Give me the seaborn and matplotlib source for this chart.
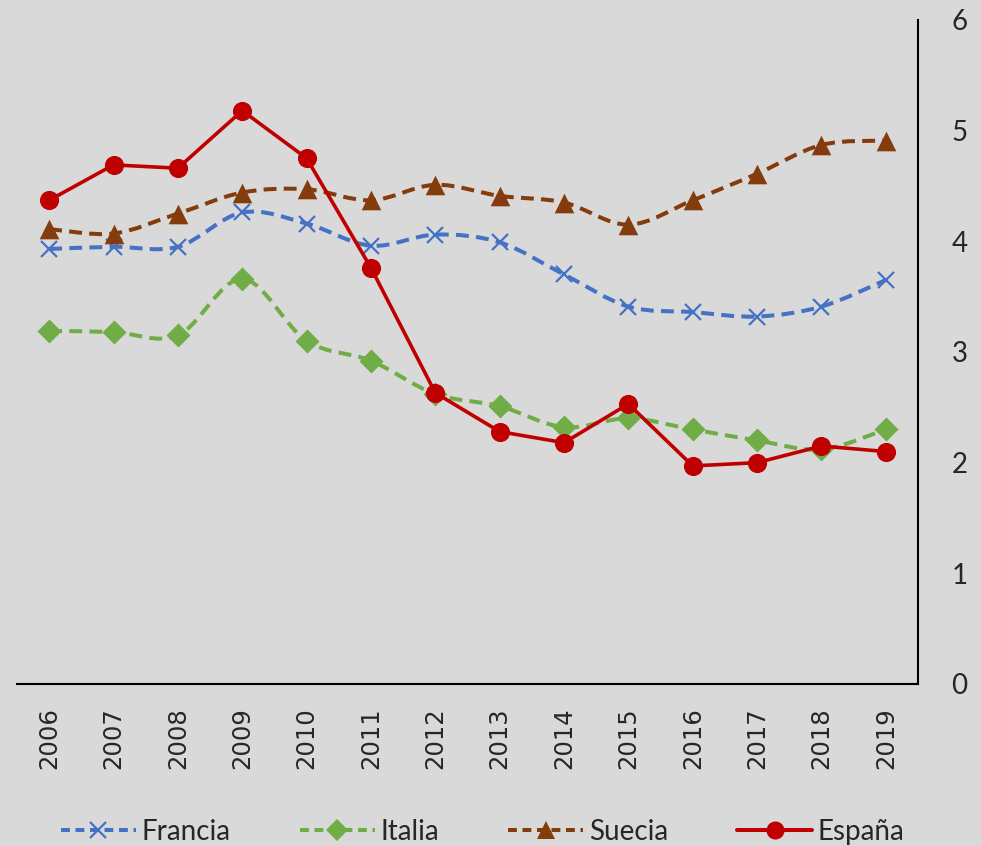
import numpy as np
import pandas as pd
import seaborn as sns
import matplotlib.pyplot as plt
from matplotlib.path import Path
from matplotlib.patches import PathPatch
from matplotlib.lines import Line2D

# Values
years = [str(y) for y in range(2006, 2020)]
francia = [3.93, 3.95, 3.95, 4.26, 4.16, 3.96, 4.06, 3.99, 3.70, 3.41, 3.36, 3.32, 3.41, 3.65]
italia = [3.19, 3.18, 3.15, 3.66, 3.10, 2.92, 2.62, 2.51, 2.32, 2.40, 2.30, 2.20, 2.12, 2.30]
suecia = [4.11, 4.07, 4.25, 4.44, 4.47, 4.37, 4.51, 4.41, 4.35, 4.15, 4.37, 4.61, 4.87, 4.91]
espana = [4.37, 4.69, 4.66, 5.18, 4.75, 3.76, 2.63, 2.28, 2.18, 2.53, 1.97, 2.00, 2.15, 2.10]

BG = "#D9D9D9"
colors = {"Francia": "#4472C4", "Italia": "#70AD47", "Suecia": "#843C0C", "España": "#C00000"}
markers = {"Francia": "x", "Italia": "D", "Suecia": "^", "España": "o"}

df = pd.DataFrame({"x": np.arange(len(years)), "Francia": francia, "Italia": italia,
                   "Suecia": suecia, "España": espana})

sns.set_style("white", {"axes.facecolor": BG, "figure.facecolor": BG})
plt.rcParams["font.family"] = ["Lato", "DejaVu Sans"]


def smooth_path(xs, ys):
    # Bezier path through the points, like Excel's smoothed lines
    pts = np.column_stack([xs, ys]).astype(float)
    n = len(pts)
    verts = [pts[0]]
    codes = [Path.MOVETO]
    for i in range(n - 1):
        p0 = pts[i - 1] if i > 0 else pts[i]
        p3 = pts[i + 2] if i + 2 < n else pts[i + 1]
        c1 = pts[i] + (pts[i + 1] - p0) / 6
        c2 = pts[i + 1] - (p3 - pts[i]) / 6
        verts += [c1, c2, pts[i + 1]]
        codes += [Path.CURVE4] * 3
    return Path(verts, codes)


fig = plt.figure(figsize=(9.81, 8.46), dpi=100)
ax = fig.add_axes([0.0173, 0.1915, 0.9185, 0.785])

dash = (0, (3.2, 1.8))
for name in ["Francia", "Italia", "Suecia"]:
    patch = PathPatch(smooth_path(df["x"], df[name]), fill=False, edgecolor=colors[name],
                      lw=2.9, linestyle=dash, capstyle="butt", zorder=2)
    ax.add_patch(patch)
    if name == "Francia":
        ax.plot(df["x"], df[name], linestyle="none", marker="x", ms=12, mew=1.6,
                color=colors[name], zorder=3)
    else:
        sns.scatterplot(data=df, x="x", y=name, marker=markers[name],
                        s=200 if name == "Suecia" else 150, color=colors[name],
                        edgecolor=colors[name], linewidth=0, ax=ax, zorder=3)

sns.lineplot(data=df, x="x", y="España", color=colors["España"], lw=2.6, marker="o",
             ms=13, mec=colors["España"], ax=ax, zorder=4)

ax.set_xlim(-0.5, 13.5)
ax.set_ylim(0, 6)
ax.set_xticks(df["x"])
ax.set_xticklabels(years, rotation=90, fontsize=17.5, family="DejaVu Sans")
ax.set_yticks(range(0, 7))
ax.yaxis.tick_right()
ax.tick_params(axis="y", length=0, pad=24, labelsize=20)
ax.tick_params(axis="x", length=0, pad=17)
ax.set_xlabel("")
ax.set_ylabel("")
for side in ["top", "left"]:
    ax.spines[side].set_visible(False)
for side in ["right", "bottom"]:
    ax.spines[side].set_color("black")
    ax.spines[side].set_linewidth(1.5)

handles = []
for name in ["Francia", "Italia", "Suecia", "España"]:
    ls = "-" if name == "España" else (0, (2.2, 1.4))
    ms = 13 if name in ("España", "Suecia") else 11
    handles.append(Line2D([0], [0], color=colors[name], lw=2.9, linestyle=ls,
                          marker=markers[name], ms=ms, mec=colors[name],
                          mew=1.6 if name == "Francia" else 0))
fig.legend(handles, list(colors.keys()), loc="center", bbox_to_anchor=(0.492, 0.017),
           ncol=4, frameon=False, fontsize=20, handlelength=2.7, handletextpad=0.2,
           columnspacing=2.5)

fig.savefig("out.png", dpi=100, facecolor=BG)
